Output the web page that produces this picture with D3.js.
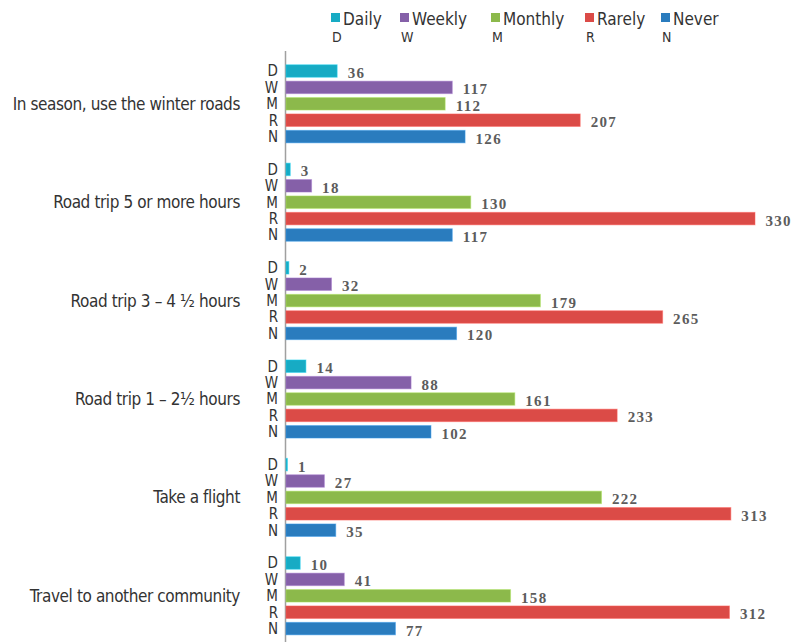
<!DOCTYPE html>
<html>
<head>
<meta charset="utf-8">
<script src="https://cdn.jsdelivr.net/npm/d3@7"></script>
<style>
  html, body { margin: 0; padding: 0; background: #fff; }
  svg { display: block; }
  .cond { font-family: "Liberation Sans Narrow", "DejaVu Sans Condensed", "Roboto", sans-serif; }
  .val { font-family: "Liberation Serif", "DejaVu Serif", serif; font-weight: bold; }
</style>
</head>
<body>
<svg id="chart" width="795" height="642"></svg>
<script>
// Travel frequency by activity
const categories = [
  "In season, use the winter roads",
  "Road trip 5 or more hours",
  "Road trip 3 \u2013 4 \u00BD hours",
  "Road trip 1 \u2013 2\u00BD hours",
  "Take a flight",
  "Travel to another community"
];
const seriesNames = ["Daily", "Weekly", "Monthly", "Rarely", "Never"];
const seriesCodes = ["D", "W", "M", "R", "N"];
const seriesColors = ["#17abc4", "#8560a8", "#8cb94b", "#db4b47", "#2a7cbe"];

const daily   = [36, 3, 2, 14, 1, 10];
const weekly  = [117, 18, 32, 88, 27, 41];
const monthly = [112, 130, 179, 161, 222, 158];
const rarely  = [207, 330, 265, 233, 313, 312];
const never   = [126, 117, 120, 102, 35, 77];
const seriesValues = [daily, weekly, monthly, rarely, never];

const svg = d3.select("#chart");

const x = d3.scaleLinear().domain([0, 330]).range([286, 755]);
const yGroup = d3.scaleBand().domain(categories).range([62.8, 636.8])
  .paddingInner(1 / 6).paddingOuter(0);
const yRow = d3.scaleBand().domain(seriesCodes).range([0, yGroup.bandwidth()])
  .paddingInner(0.24).paddingOuter(0.12);

// vertical baseline
svg.append("line")
  .attr("x1", x(0) - 0.5).attr("x2", x(0) - 0.5)
  .attr("y1", 51).attr("y2", 642)
  .attr("stroke", "#a0a0a0").attr("stroke-width", 1.5);

const groups = svg.selectAll("g.group")
  .data(categories)
  .join("g")
  .attr("class", "group")
  .attr("transform", d => `translate(0,${yGroup(d)})`);

// category labels
groups.append("text")
  .attr("class", "cond")
  .attr("x", 240)
  .attr("y", yGroup.bandwidth() / 2)
  .attr("dy", "0.35em")
  .attr("text-anchor", "end")
  .attr("font-size", 17)
  .attr("letter-spacing", -0.4)
  .attr("fill", "#333")
  .text(d => d);

groups.each(function (cat, gi) {
  const g = d3.select(this);
  seriesCodes.forEach((code, si) => {
    const v = seriesValues[si][gi];
    const yc = yRow(code) + yRow.bandwidth() / 2;
    g.append("text")
      .attr("class", "cond")
      .attr("x", 278)
      .attr("y", yc)
      .attr("dy", "0.36em")
      .attr("text-anchor", "end")
      .attr("font-size", 15)
      .attr("fill", "#333")
      .text(code);
    g.append("rect")
      .attr("x", x(0))
      .attr("y", yRow(code))
      .attr("width", x(v) - x(0))
      .attr("height", yRow.bandwidth())
      .attr("fill", seriesColors[si])
      .attr("stroke", d3.color(seriesColors[si]).brighter(0.6))
      .attr("stroke-opacity", 0.5)
      .attr("stroke-width", 1);
    g.append("text")
      .attr("class", "val")
      .attr("x", x(v) + 10.5)
      .attr("y", yc + 7)
      .attr("font-size", 15)
      .attr("letter-spacing", 1.3)
      .attr("fill", "#5c5c5c")
      .text(v);
  });
});

// legend
const legendX = [331, 400, 491, 585, 661];
const legend = svg.selectAll("g.leg")
  .data(seriesNames)
  .join("g")
  .attr("class", "leg")
  .attr("transform", (d, i) => `translate(${legendX[i]},0)`);
legend.append("rect")
  .attr("x", 0).attr("y", 13)
  .attr("width", 9).attr("height", 9)
  .attr("fill", (d, i) => seriesColors[i]);
legend.append("text")
  .attr("class", "cond")
  .attr("x", 12).attr("y", 25)
  .attr("font-size", 17)
  .attr("fill", "#333")
  .text(d => d);
legend.append("text")
  .attr("class", "cond")
  .attr("x", 1).attr("y", 42)
  .attr("font-size", 14)
  .attr("fill", "#333")
  .text((d, i) => seriesCodes[i]);
</script>
</body>
</html>
